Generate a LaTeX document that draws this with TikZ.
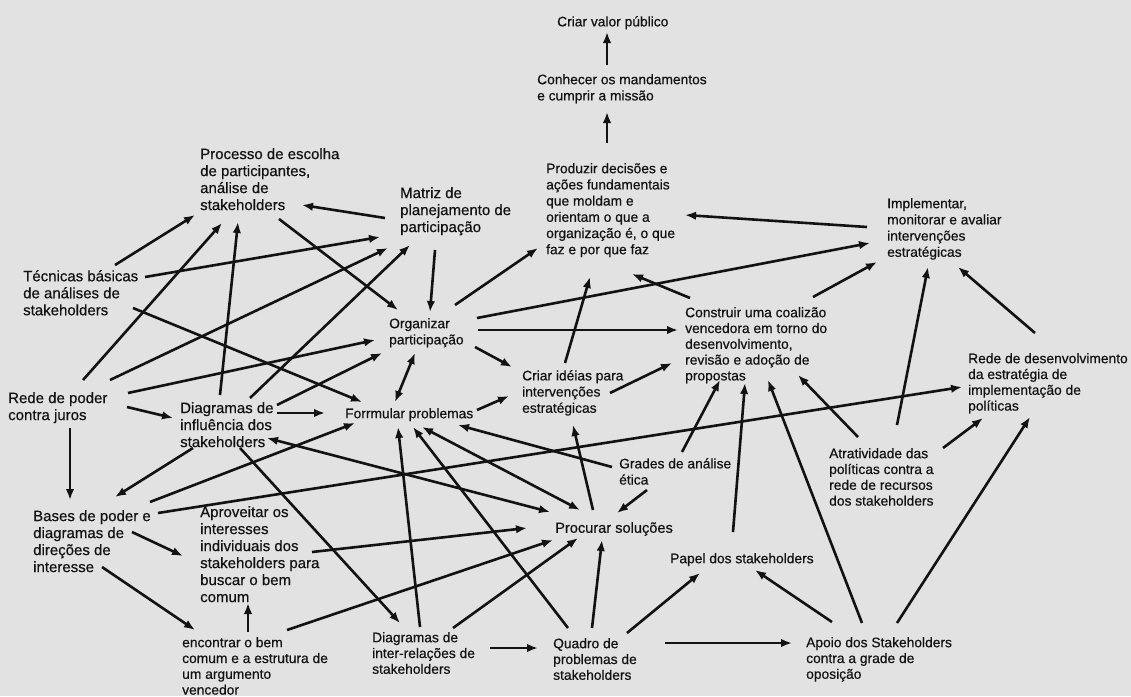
\documentclass[tikz,border=0pt]{standalone}
\usepackage{fontspec}
\setmainfont{Liberation Sans}[FakeBold=0.5,AutoFakeBold=0.5]
\newfontfamily\heavy{Liberation Sans}[FakeBold=0.5]
\usetikzlibrary{calc,arrows.meta}
\definecolor{ink}{RGB}{18,18,18}
\definecolor{bg}{RGB}{226,226,226}
\begin{document}
\begin{tikzpicture}[x=1pt,y=-1pt,
  lbl/.style={anchor=north west,inner sep=0pt,align=left,text=ink,font=\heavy\fontsize{13.8}{16.2}\selectfont},
  big/.style={lbl,font=\heavy\fontsize{15}{17}\selectfont},
  mid/.style={lbl,font=\heavy\fontsize{14.6}{17}\selectfont},
  tight/.style={lbl,font=\heavy\fontsize{13.8}{15.8}\selectfont},
  arr/.style={draw=ink,line width=2.6pt,-{Latex[length=11pt,width=8.5pt]}},
  darr/.style={draw=ink,line width=2.6pt,{Latex[length=11pt,width=8.5pt]}-{Latex[length=11pt,width=8.5pt]}}]
\useasboundingbox (0,0) rectangle (1131,696);
\fill[bg] (0,0) rectangle (1131,696);

% nodes
\node[lbl] (val) at (557,16) {Criar valor público};
\node[lbl] (conh) at (537,74) {Conhecer os mandamentos\\e cumprir a missão};
\node[lbl] (prod) at (546,163) {Produzir decisões e\\ações fundamentais\\que moldam e\\orientam o que a\\organização é, o que\\faz e por que faz};
\node[big] (proc) at (200,148) {Processo de escolha\\de participantes,\\análise de\\stakeholders};
\node[big] (matr) at (400,187) {Matriz de\\planejamento de\\participação};
\node[big] (tec) at (23,270) {Técnicas básicas\\de análises de\\stakeholders};
\node[lbl] (org) at (389,318) {Organizar\\participação};
\node[lbl] (impl) at (887,198) {Implementar,\\monitorar e avaliar\\intervenções\\estratégicas};
\node[tight] (cons) at (685,307) {Construir uma coalizão\\vencedora em torno do\\desenvolvimento,\\revisão e adoção de\\propostas};
\node[tight] (rdev) at (968,353) {Rede de desenvolvimento\\da estratégia de\\implementação de\\políticas};
\node[lbl] (cri) at (522,370) {Criar idéias para\\intervenções\\estratégicas};
\node[big] (rpod) at (8,392) {Rede de poder\\contra juros};
\node[big] (dinf) at (180,402) {Diagramas de\\influência dos\\stakeholders};
\node[lbl] (form) at (345,408) {Forrmular problemas};
\node[lbl] (grad) at (619,458) {Grades de análise\\ética};
\node[tight] (atr) at (829,448) {Atratividade das\\políticas contra a\\rede de recursos\\dos stakeholders};
\node[big] (bas) at (33,510) {Bases de poder e\\diagramas de\\direções de\\interesse};
\node[big] (apr) at (200,506) {Aproveitar os\\interesses\\individuais dos\\stakeholders para\\buscar o bem\\comum};
\node[mid] (psol) at (555,522) {Procurar soluções};
\node[lbl] (pap) at (670,553) {Papel dos stakeholders};
\node[tight] (enc) at (182,637) {encontrar o bem\\comum e a estrutura de\\um argumento\\vencedor};
\node[tight] (dint) at (372,632) {Diagramas de\\inter-relações de\\stakeholders};
\node[tight] (quad) at (553,638) {Quadro de\\problemas de\\stakeholders};
\node[tight] (apo) at (806,637) {Apoio dos Stakeholders\\contra a grade de\\oposição};

% connectors
\draw[arr] ($(conh.north west)+(70,-9)$) -- ($(val.north west)+(50,16)$);
\draw[arr] ($(prod.north west)+(61,-20)$) -- ($(conh.north west)+(70,38)$);
\draw[arr] ($(tec.north west)+(92,-5)$) -- ($(proc.north west)+(-5,67)$);
\draw[arr] ($(tec.north west)+(122,7)$) -- ($(matr.north west)+(-20,50)$);
\draw[arr] ($(matr.north west)+(-15,31)$) -- ($(proc.north west)+(102,57)$);
\draw[arr] ($(proc.north west)+(79,71)$) -- ($(org.north west)+(9,-8)$);
\draw[arr] ($(matr.north west)+(35,63)$) -- ($(org.north west)+(41,-6)$);
\draw[arr] ($(rpod.north west)+(75,-12)$) -- ($(proc.north west)+(22,75)$);
\draw[arr] ($(dinf.north west)+(40,-7)$) -- ($(proc.north west)+(38,74)$);
\draw[arr] ($(rpod.north west)+(102,-12)$) -- ($(matr.north west)+(-12,61)$);
\draw[arr] ($(dinf.north west)+(70,-4)$) -- ($(matr.north west)+(10,58)$);
\draw[arr] ($(tec.north west)+(110,38)$) -- ($(form.north west)+(17,-6)$);
\draw[arr] ($(rpod.north west)+(120,1)$) -- ($(org.north west)+(-14,22)$);
\draw[arr] ($(dinf.north west)+(97,3)$) -- ($(org.north west)+(-7,35)$);
\draw[darr] ($(org.north west)+(26,35)$) -- ($(form.north west)+(50,-6)$);
\draw[arr] ($(dinf.north west)+(97,11)$) -- ($(form.north west)+(-20,5)$);
\draw[arr] ($(rpod.north west)+(119,15)$) -- ($(dinf.north west)+(-7,16)$);
\draw[arr] ($(rpod.north west)+(62,36)$) -- ($(bas.north west)+(37,-10)$);
\draw[arr] ($(bas.north west)+(125,3)$) -- ($(rdev.north west)+(-6,34)$);
\draw[arr] ($(bas.north west)+(117,-8)$) -- ($(form.north west)+(10,15)$);
\draw[arr] ($(dinf.north west)+(13,46)$) -- ($(bas.north west)+(82,-13)$);
\draw[arr] ($(bas.north west)+(99,22)$) -- ($(apr.north west)+(-17,50)$);
\draw[arr] ($(bas.north west)+(69,57)$) -- ($(enc.north west)+(13,-7)$);
\draw[arr] ($(enc.north west)+(66,-5)$) -- ($(apr.north west)+(48,97)$);
\draw[arr] ($(dinf.north west)+(60,46)$) -- ($(dint.north west)+(28,-9)$);
\draw[darr] ($(dinf.north west)+(87,36)$) -- ($(psol.north west)+(-5,-10)$);
\draw[darr] ($(form.north west)+(77,19)$) -- ($(psol.north west)+(25,-12)$);
\draw[arr] ($(apr.north west)+(112,46)$) -- ($(psol.north west)+(-28,6)$);
\draw[arr] ($(enc.north west)+(105,-7)$) -- ($(psol.north west)+(-2,18)$);
\draw[arr] ($(dint.north west)+(81,-4)$) -- ($(psol.north west)+(23,16)$);
\draw[arr] ($(quad.north west)+(39,-10)$) -- ($(psol.north west)+(47,18)$);
\draw[arr] ($(grad.north west)+(28,32)$) -- ($(psol.north west)+(62,-9)$);
\draw[arr] ($(psol.north west)+(38,-12)$) -- ($(cri.north west)+(51,55)$);
\draw[arr] ($(grad.north west)+(-7,9)$) -- ($(form.north west)+(113,17)$);
\draw[arr] ($(grad.north west)+(63,-6)$) -- ($(cons.north west)+(35,73)$);
\draw[arr] ($(pap.north west)+(63,-21)$) -- ($(cons.north west)+(60,76)$);
\draw[arr] ($(apo.north west)+(56,-14)$) -- ($(cons.north west)+(83,73)$);
\draw[arr] ($(atr.north west)+(29,-11)$) -- ($(cons.north west)+(113,68)$);
\draw[arr] ($(atr.north west)+(68,-23)$) -- ($(impl.north west)+(41,69)$);
\draw[arr] ($(atr.north west)+(114,0)$) -- ($(rdev.north west)+(15,65)$);
\draw[arr] ($(apo.north west)+(91,-14)$) -- ($(rdev.north west)+(62,64)$);
\draw[arr] ($(apo.north west)+(26,-15)$) -- ($(pap.north west)+(85,17)$);
\draw[arr] ($(quad.north west)+(74,-5)$) -- ($(pap.north west)+(30,20)$);
\draw[arr] ($(quad.north west)+(112,5)$) -- ($(apo.north west)+(-14,6)$);
\draw[arr] ($(dint.north west)+(118,16)$) -- ($(quad.north west)+(-15,10)$);
\draw[arr] ($(rdev.north west)+(67,-20)$) -- ($(impl.north west)+(71,69)$);
\draw[arr] ($(cons.north west)+(128,-10)$) -- ($(impl.north west)+(-10,64)$);
\draw[arr] ($(impl.north west)+(-20,29)$) -- ($(prod.north west)+(139,52)$);
\draw[arr] ($(org.north west)+(88,0)$) -- ($(impl.north west)+(-17,45)$);
\draw[arr] ($(cons.north west)+(5,-9)$) -- ($(prod.north west)+(86,111)$);
\draw[arr] ($(cri.north west)+(43,-7)$) -- ($(prod.north west)+(44,114)$);
\draw[arr] ($(org.north west)+(66,-13)$) -- ($(prod.north west)+(-8,85)$);
\draw[arr] ($(org.north west)+(89,12)$) -- ($(cons.north west)+(-7,23)$);
\draw[arr] ($(org.north west)+(86,29)$) -- ($(cri.north west)+(-10,-3)$);
\draw[arr] ($(form.north west)+(132,2)$) -- ($(cri.north west)+(-13,26)$);
\draw[arr] ($(cri.north west)+(88,23)$) -- ($(cons.north west)+(-13,56)$);
\draw[arr] ($(dint.north west)+(48,-5)$) -- ($(form.north west)+(53,19)$);
\draw[arr] ($(quad.north west)+(15,-10)$) -- ($(form.north west)+(68,19)$);
\end{tikzpicture}
\end{document}
